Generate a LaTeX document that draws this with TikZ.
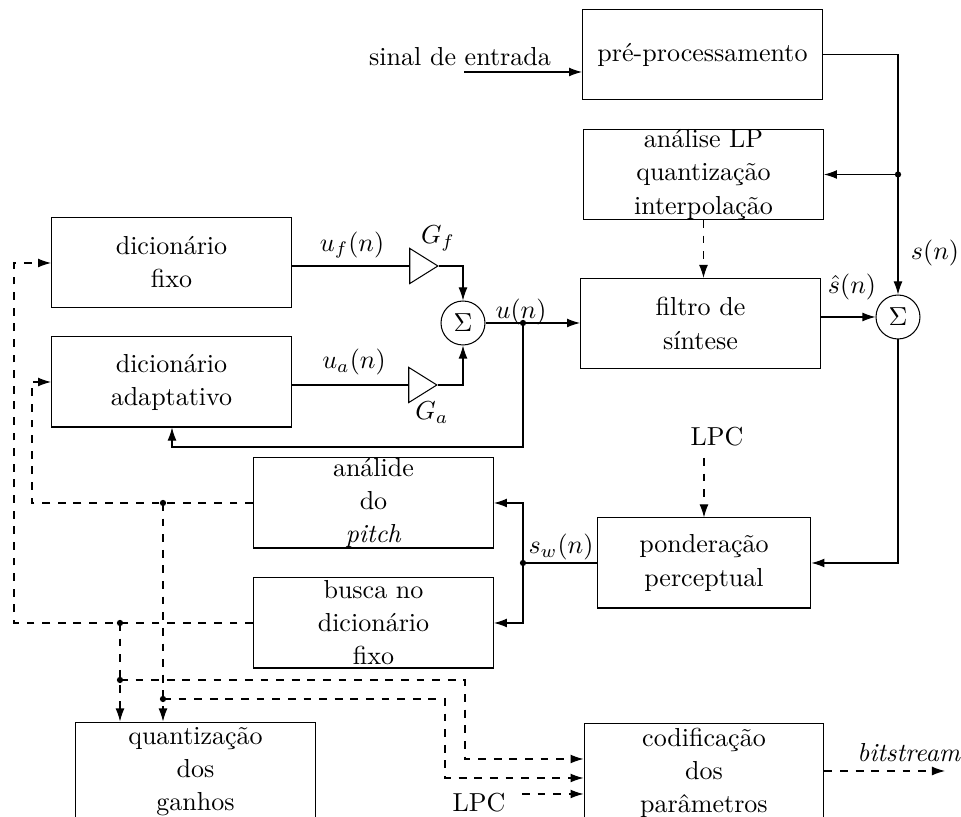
\documentclass[tikz,border=0pt]{standalone}
\usepackage{amsmath,amssymb}
\usepackage{tikz}
\usetikzlibrary{shapes.geometric,arrows.meta}

\begin{document}
\begin{tikzpicture}[x=0.3843pt,y=0.3843pt,>={Latex[length=5pt,width=3.4pt]},
  blockbox/.style={draw,minimum width=92.2pt,minimum height=34.6pt,inner sep=0pt},
  blocktext/.style={align=center,font=\fontsize{10}{12.7}\selectfont},
  sumnode/.style={draw,circle,minimum size=16.9pt,inner sep=0pt},
  gainnode/.style={draw,isosceles triangle,isosceles triangle stretches,minimum width=13.5pt,minimum height=10.8pt,inner sep=0pt},
  siglabel/.style={inner sep=0pt}]
\useasboundingbox (0,0) rectangle (961,-817);
\clip (0,0) rectangle (961,-817);
% blocos
\node[blockbox,label={[blocktext]center:pré-processamento}] (pre) at (702.5,-54.5) {};
\node[blockbox,label={[blocktext]center:análise LP\\quantização\\interpolação}] (analise) at (703.5,-174.5) {};
\node[blockbox,label={[blocktext]center:filtro de\\síntese}] (filtro) at (700.5,-323.5) {};
\node[blockbox,label={[blocktext]center:dicionário\\fixo}] (fixo) at (171.5,-262.5) {};
\node[blockbox,label={[blocktext]center:dicionário\\adaptativo}] (adapt) at (171.5,-382) {};
\node[blockbox,label={[blocktext]center:análide\\do\\\textit{pitch}}] (analide) at (373.5,-503) {};
\node[blockbox,label={[blocktext]center:busca no\\dicionário\\fixo}] (busca) at (373.5,-623) {};
\node[blockbox,minimum width=82.2pt,label={[blocktext]center:ponderação\\perceptual}] (pond) at (704,-563) {};
\node[blockbox,minimum height=38.4pt,label={[blocktext]center:quantização\\dos\\ganhos}] (quant) at (195.5,-772) {};
\node[blockbox,minimum height=38.4pt,label={[blocktext]center:codificação\\dos\\parâmetros}] (codif) at (704,-773) {};
% somadores e ganhos
\node[sumnode] (sumL) at (463,-323) {$\Sigma$};
\node[sumnode] (sumR) at (898,-317) {$\Sigma$};
\node[gainnode] (gf) at (419.5,-266) {};
\node[gainnode] (ga) at (418.5,-385) {};
% rotulos
\node[siglabel] (sinal) at (460,-57) {sinal de entrada};
\node[siglabel] (sLab) at (935,-253) {$s(n)$};
\node[siglabel] (shatLab) at (852,-287) {$\hat{s}(n)$};
\node[siglabel] (ufLab) at (352,-245) {$u_f(n)$};
\node[siglabel] (uaLab) at (354,-362) {$u_a(n)$};
\node[siglabel] (gfLab) at (438,-238) {$G_f$};
\node[siglabel] (gaLab) at (432,-413) {$G_a$};
\node[siglabel] (unLab) at (521,-312) {$u(n)$};
\node[siglabel] (swLab) at (561,-547) {$s_w(n)$};
\node[siglabel] (lpcA) at (717,-437) {LPC};
\node[siglabel] (lpcB) at (479,-803) {LPC};
\node[siglabel] (bits) at (909,-753) {\textit{bitstream}};
% pontos
\coordinate (entra) at (464,-72);
\coordinate (sn) at (898,-174.5);
\coordinate (un) at (523,-323);
\coordinate (fb) at (172,-447);
\coordinate (sw) at (523,-563);
\coordinate (lpcin) at (704,-458);
\coordinate (lp) at (32,-382);
\coordinate (lq) at (14,-263);
\coordinate (p1) at (163,-503);
\coordinate (p2) at (120,-623);
\coordinate (p3) at (120,-680);
\coordinate (p4) at (163,-699);
\coordinate (c1) at (465,-759);
\coordinate (c2) at (445,-778);
\coordinate (lpcout) at (522,-794);
\coordinate (bitout) at (945,-771);
% ligacoes
\draw[->] (entra) -- (entra -| pre.west);
\draw[->] (pre.east) -| (sumR.north);
\draw[->] (sn) -- (analise.east);
\draw[->,dashed] (analise.south) -- (analise.south |- filtro.north);
\draw[->] (sumR -| filtro.east) -- (sumR.west);
\draw[->] (sumR.south) |- (pond.east);
\draw[->,dashed] (lpcin) -- (lpcin |- pond.north);
\draw (pond.west) -- (sw);
\draw[->] (sw) |- (analide.east);
\draw[->] (sw) |- (busca.east);
\draw (gf.west -| fixo.east) -- (gf.west);
\draw (ga.west -| adapt.east) -- (ga.west);
\draw[->] (gf.apex) -| (sumL.north);
\draw[->] (ga.apex) -| (sumL.south);
\draw[->] (sumL.east) -- (sumL -| filtro.west);
\draw[->] (un) |- (fb) -- (fb |- adapt.south);
\draw[->,dashed] (analide.west) -| (lp) -- (lp -| adapt.west);
\draw[->,dashed] (busca.west) -| (lq) -- (lq -| fixo.west);
\draw[->,dashed] (p1) -- (p1 |- quant.north);
\draw[->,dashed] (p2) -- (p2 |- quant.north);
\draw[->,dashed] (p3) -| (c1) -- (c1 -| codif.west);
\draw[->,dashed] (p4) -| (c2) -- (c2 -| codif.west);
\draw[->,dashed] (lpcout) -- (lpcout -| codif.west);
\draw[->,dashed] (codif.east |- bitout) -- (bitout);
\foreach \p in {sn,un,sw,p1,p2,p3,p4}
  \fill (\p) circle (1.2pt);
\end{tikzpicture}
\end{document}
